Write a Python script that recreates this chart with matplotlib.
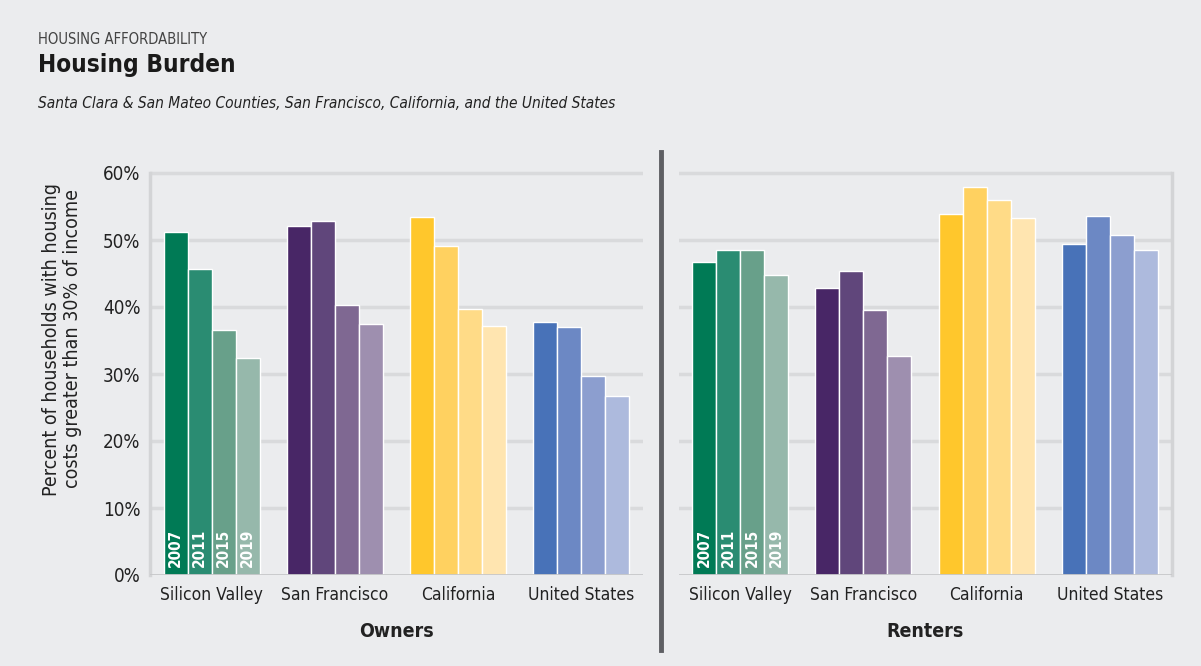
import numpy as np
import matplotlib
matplotlib.use("Agg")
import matplotlib.pyplot as plt
from matplotlib.lines import Line2D

# data (percent of households)
regions = ["Silicon Valley", "San Francisco", "California", "United States"]
years = ["2007", "2011", "2015", "2019"]

owners_sv = [51.2, 45.7, 36.6, 32.4]
owners_sf = [52.1, 52.8, 40.3, 37.5]
owners_ca = [53.4, 49.1, 39.7, 37.2]
owners_us = [37.8, 37.0, 29.7, 26.7]

renters_sv = [46.7, 48.5, 48.5, 44.8]
renters_sf = [42.8, 45.4, 39.6, 32.7]
renters_ca = [53.9, 57.9, 56.0, 53.3]
renters_us = [49.4, 53.6, 50.7, 48.5]

yticks = [0, 10, 20, 30, 40, 50, 60]

palettes = [
    ["#007A55", "#2A8C72", "#68A08A", "#96B8AB"],
    ["#482666", "#60467B", "#7F6892", "#9E8FAF"],
    ["#FFC72C", "#FFD160", "#FFDB87", "#FFE5B0"],
    ["#4872B8", "#6C88C4", "#8C9ECF", "#ADBADD"],
]

BG = "#EBECEE"
GRID = "#D9DADC"
TXT = "#222222"
plt.rcParams["font.family"] = ["DejaVu Sans"]
plt.rcParams["font.stretch"] = "condensed"

W, H = 1201, 666
fig = plt.figure(figsize=(W / 100, H / 100), dpi=100, facecolor=BG)


def fx(px):
    return px / W


def fy(py):
    return 1 - py / H


def draw_panel(ax, data, title, show_yticks):
    ax.set_facecolor(BG)
    width = 0.195
    offsets = (np.arange(4) - 1.5) * width
    for gi, vals in enumerate(data):
        for yi, v in enumerate(vals):
            ax.bar(gi + offsets[yi], v, width=width, color=palettes[gi][yi],
                   edgecolor="white", linewidth=1.0, zorder=3)
            if gi == 0:
                # year labels only inside the first group
                ax.text(gi + offsets[yi], 1.2, years[yi], rotation=90, color="white",
                        fontsize=11, fontweight="bold", ha="center", va="bottom",
                        zorder=4)
    ax.set_xlim(-0.5, 3.5)
    ax.set_ylim(0, 61)
    ax.set_yticks(yticks)
    for t in yticks[1:]:
        ax.axhline(t, color=GRID, linewidth=2.5, zorder=1)
    if show_yticks:
        ax.set_yticklabels([f"{t}%" for t in yticks], fontsize=13.5, color=TXT)
    else:
        ax.set_yticklabels([])
    ax.tick_params(axis="y", length=0, pad=7)
    ax.set_xticks(range(4))
    ax.set_xticklabels(regions, fontsize=12.5, color=TXT)
    ax.tick_params(axis="x", length=0, pad=8)
    for s in ["top", "right", "left", "bottom"]:
        ax.spines[s].set_visible(False)
    ax.axhline(0, color="#C6C7C9", linewidth=2, zorder=5)
    ax.set_xlabel(title, fontsize=14, fontweight="bold", color=TXT, labelpad=13)


ax1 = fig.add_axes([fx(150), fy(575), fx(493), (575 - 166.3) / H])
ax2 = fig.add_axes([fx(678.5), fy(575), fx(493), (575 - 166.3) / H])

draw_panel(ax1, [owners_sv, owners_sf, owners_ca, owners_us], "Owners", True)
draw_panel(ax2, [renters_sv, renters_sf, renters_ca, renters_us], "Renters", False)

# light vertical frame lines
ax1.plot([-0.5, -0.5], [0, 60], color="#D3D4D6", linewidth=2.5, clip_on=False, zorder=2)
ax2.plot([3.5, 3.5], [0, 60], color="#D3D4D6", linewidth=2.5, clip_on=False, zorder=2)

# dark separator between panels
fig.add_artist(Line2D([fx(661), fx(661)], [fy(152), fy(650)], color="#5E5F63", linewidth=3.5))

ax1.set_ylabel("Percent of households with housing\ncosts greater than 30% of income",
               fontsize=14, color=TXT, linespacing=1.1)
ax1.yaxis.set_label_coords((82 - 150) / 493, (575 - 339) / (575 - 166.3))

fig.text(fx(38), fy(39), "HOUSING AFFORDABILITY", fontsize=10.6, color="#444444",
         ha="left", va="center")
fig.text(fx(38), fy(65), "Housing Burden", fontsize=17.5, fontweight="bold",
         color="#1A1A1A", ha="left", va="center")
fig.text(fx(38), fy(104),
         "Santa Clara & San Mateo Counties, San Francisco, California, and the United States",
         fontsize=11.1, style="italic", color=TXT, ha="left", va="center")

fig.savefig("out.png", dpi=100, facecolor=BG)
